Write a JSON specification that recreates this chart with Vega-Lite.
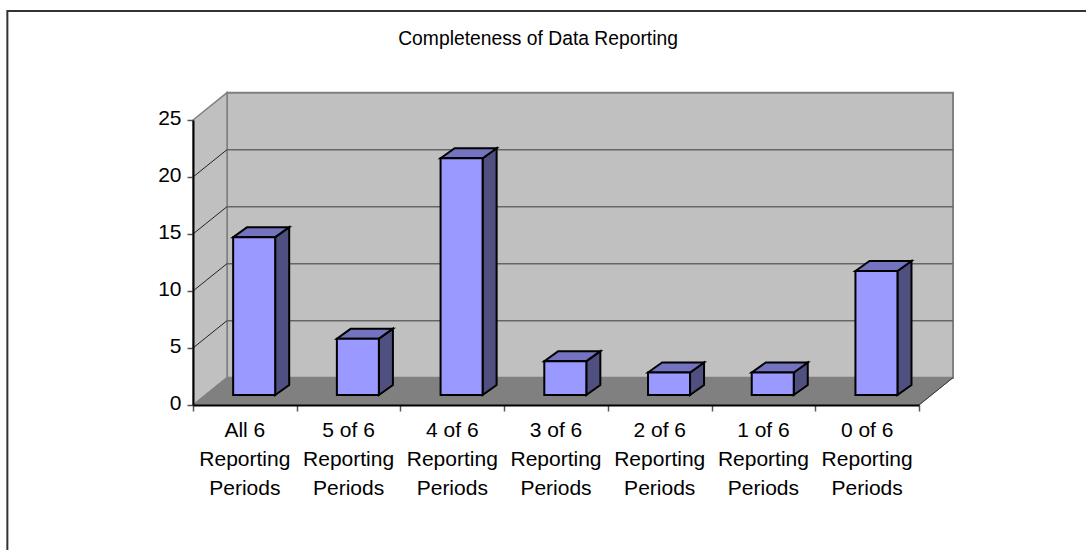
{
"$schema":"https://vega.github.io/schema/vega-lite/v6.json",
"width":726,"height":285,
"autosize":{"type":"none"},
"padding":{"left":193,"top":120,"right":167,"bottom":145},
"background":"white",
"config":{"view":{"stroke":null},"font":"Liberation Sans"},
"datasets":{
"bars":[
{"category":"All 6 Reporting Periods","value":14},
{"category":"5 of 6 Reporting Periods","value":5},
{"category":"4 of 6 Reporting Periods","value":21},
{"category":"3 of 6 Reporting Periods","value":3},
{"category":"2 of 6 Reporting Periods","value":2},
{"category":"1 of 6 Reporting Periods","value":2},
{"category":"0 of 6 Reporting Periods","value":11}
],
"depth":[{"t":0},{"t":1}],
"grid":[{"v":5},{"v":10},{"v":15},{"v":20}]
},
"layer":[
{"layer":[
{"data":{"values":[{"part":"frame"}]},
"mark":{"type":"rect","fill":null,"fillOpacity":0,"stroke":"#333333","strokeWidth":2},
"encoding":{
"x":{"datum":-1.79,"type":"quantitative","scale":{"domain":[0,7],"nice":false,"zero":false},"axis":{"orient":"bottom","values":[0,1,2,3,4,5,6,7],"labels":false,"title":null,"grid":false,"domain":true,"domainColor":"#000000","domainWidth":2,"ticks":true,"tickColor":"#555555","tickSize":6,"tickWidth":1.5,"zindex":1}},
"x2":{"datum":9.5},
"y":{"datum":34.56,"type":"quantitative","scale":{"domain":[0,25],"nice":false}},
"y2":{"datum":-20}}},
{"data":{"values":[{"part":"back wall"}]},
"mark":{"type":"rect","fill":"#C0C0C0","stroke":"#808080","strokeWidth":2},
"encoding":{"x":{"datum":0.328,"type":"quantitative"},"x2":{"datum":7.328},"y":{"datum":2.4,"type":"quantitative"},"y2":{"datum":27.4}}},
{"data":{"name":"depth"},
"transform":[{"calculate":"datum.t*0.328","as":"x"},{"calculate":"datum.t*2.4","as":"y"},{"calculate":"25+datum.t*2.4","as":"y2"}],
"mark":{"type":"area","fill":"#C0C0C0","stroke":"#808080","strokeWidth":1.5},
"encoding":{"x":{"field":"x","type":"quantitative"},"y":{"field":"y","type":"quantitative"},"y2":{"field":"y2"}}},
{"data":{"name":"depth"},
"transform":[{"calculate":"datum.t*0.328","as":"x"},{"calculate":"7+datum.t*0.328","as":"x2"},{"calculate":"datum.t*2.4","as":"y"}],
"mark":{"type":"area","orient":"horizontal","fill":"#808080","stroke":"#808080","strokeWidth":1},
"encoding":{"y":{"field":"y","type":"quantitative"},"x":{"field":"x","type":"quantitative"},"x2":{"field":"x2"}}},
{"data":{"name":"grid"},
"transform":[{"calculate":"datum.v+2.4","as":"v2"}],
"mark":{"type":"rule","color":"#666666","strokeWidth":1.5},
"encoding":{"x":{"datum":0.328,"type":"quantitative"},"x2":{"datum":7.328},"y":{"field":"v2","type":"quantitative"}}},
{"data":{"name":"grid"},
"transform":[{"calculate":"datum.v+2.4","as":"v2"}],
"mark":{"type":"rule","color":"#222222","strokeWidth":1},
"encoding":{"x":{"datum":0,"type":"quantitative"},"x2":{"datum":0.328},"y":{"field":"v","type":"quantitative"},"y2":{"field":"v2"}}},
{"data":{"values":[{"part":"floor edge"}]},
"mark":{"type":"rule","color":"#333333","strokeWidth":1},
"encoding":{"x":{"datum":7,"type":"quantitative"},"x2":{"datum":7.328},"y":{"datum":0,"type":"quantitative"},"y2":{"datum":2.4}}},
{"data":{"name":"bars"},
"transform":[{"window":[{"op":"row_number","as":"n"}]},{"calculate":"[0,1]","as":"t"},{"flatten":["t"]},
{"calculate":"datum.n-1+0.5+0.09+0.2025+datum.t*0.135","as":"x"},
{"calculate":"0.877+datum.t*0.877","as":"y"},
{"calculate":"datum.value*0.989+0.877+datum.t*0.877","as":"y2"}],
"mark":{"type":"area","fill":"#4F4F80","stroke":"#000000","strokeWidth":2,"strokeJoin":"miter"},
"encoding":{"x":{"field":"x","type":"quantitative"},"y":{"field":"y","type":"quantitative"},"y2":{"field":"y2"},"detail":{"field":"category"}}},
{"data":{"name":"bars"},
"transform":[{"window":[{"op":"row_number","as":"n"}]},{"calculate":"[0,1]","as":"t"},{"flatten":["t"]},
{"calculate":"datum.n-1+0.5+0.09-0.2025+datum.t*0.135","as":"x"},
{"calculate":"datum.n-1+0.5+0.09+0.2025+datum.t*0.135","as":"x2"},
{"calculate":"datum.value*0.989+0.877+datum.t*0.877","as":"y"}],
"mark":{"type":"area","orient":"horizontal","fill":"#7373BF","stroke":"#000000","strokeWidth":2,"strokeJoin":"miter"},
"encoding":{"y":{"field":"y","type":"quantitative"},"x":{"field":"x","type":"quantitative"},"x2":{"field":"x2"},"detail":{"field":"category"}}},
{"data":{"values":[{"title":"Completeness of Data Reporting"}]},
"mark":{"type":"text","font":"Liberation Sans","fontSize":19.3,"color":"#000000","align":"center","baseline":"middle"},
"encoding":{"x":{"datum":3.327,"type":"quantitative"},"y":{"datum":32.1,"type":"quantitative"},"text":{"field":"title"}}}
]},
{"data":{"name":"bars"},
"transform":[{"calculate":"datum.value*0.989","as":"height"}],
"mark":{"type":"bar","size":42,"xOffset":9.3,"yOffset":-10,"y2Offset":-10,"fill":"#9999FF","stroke":"#000000","strokeWidth":2},
"encoding":{
"x":{"field":"category","type":"nominal","sort":null,"scale":{"paddingInner":0,"paddingOuter":0},"axis":{"orient":"bottom","title":null,"ticks":false,"domain":false,"labelAngle":0,"labelFontSize":21,"labelColor":"#000000","labelFont":"Liberation Sans","labelLineHeight":29,"labelPadding":14,"labelAlign":"center","labelLimit":0,"labelExpr":"[substring(datum.label,0,length(datum.label)-18),'Reporting','Periods']"}},
"y":{"field":"height","type":"quantitative","axis":{"orient":"left","values":[0,5,10,15,20,25],"title":null,"grid":false,"domainColor":"#000000","domainWidth":2,"tickColor":"#555555","tickSize":6,"tickWidth":1.5,"labelFontSize":21,"labelColor":"#000000","labelFont":"Liberation Sans","labelPadding":6,"labelOffset":-1.5,"zindex":1}}}}
],
"resolve":{"scale":{"x":"independent"},"axis":{"x":"independent"}}
}
